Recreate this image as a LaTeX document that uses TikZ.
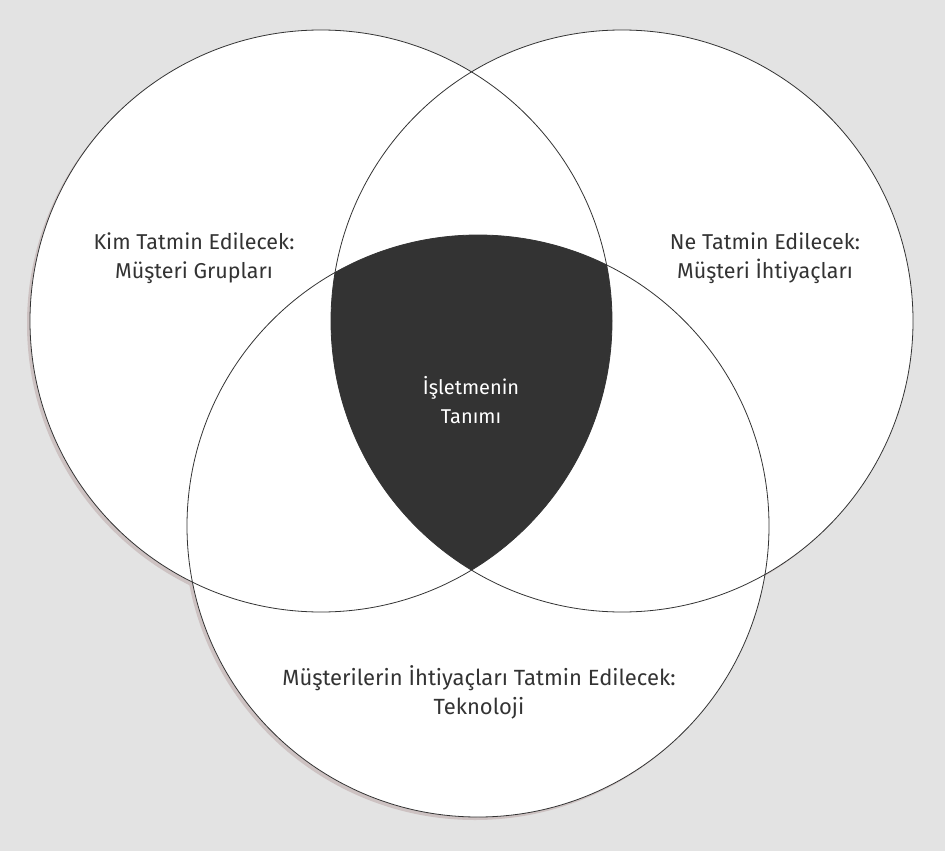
\documentclass[tikz,border=0pt]{standalone}
\usepackage{fontspec}
\setmainfont{Fira Sans}
\definecolor{bg}{RGB}{227,227,227}
\definecolor{ink}{RGB}{51,51,51}
\definecolor{shade}{RGB}{205,194,194}
\tikzstyle{venn} = [circle, 
minimum size=582pt, 
inner sep=0pt, 
draw=ink, 
line width=0.8pt]
\tikzstyle{vennshadow} = [circle, 
minimum size=582pt, 
inner sep=0pt, 
fill=shade]
\tikzstyle{vennlabel} = [align=center, 
text=ink, 
font=\fontsize{21.5}{29}\selectfont]

\begin{document}
\begin{tikzpicture}[x=1pt, y=-1pt]

\fill [bg] (0,0) rectangle (945,851);
\useasboundingbox (0,0) rectangle (945,851);

% shadows
\node [vennshadow] at (318,324) {};
\node [vennshadow] at (619,324) {};
\node [vennshadow] at (475,529) {};

% white circles
\node (kim) [venn, fill=white, draw=none] at (321,321) {};
\node (ne) [venn, fill=white, draw=none] at (622,321) {};
\node (tek) [venn, fill=white, draw=none] at (478,526) {};

% common part
\begin{scope}
\clip (kim.center) circle (291);
\clip (ne.center) circle (291);
\fill [ink] (tek.center) circle (291);
\end{scope}

\node [venn] at (kim) {};
\node [venn] at (ne) {};
\node [venn] at (tek) {};

\node (kim_txt) [vennlabel] at (194,258) {Kim Tatmin Edilecek:\\Müşteri Grupları};
\node (ne_txt) [vennlabel] at (765,258) {Ne Tatmin Edilecek:\\Müşteri İhtiyaçları};
\node (tek_txt) [vennlabel, font=\fontsize{22}{29}\selectfont] at (479,692) {Müşterilerin İhtiyaçları Tatmin Edilecek:\\Teknoloji};
\node (tanim) [vennlabel, text=white, font=\fontsize{20}{29}\selectfont] at (471,400) {İşletmenin\\Tanımı};

\end{tikzpicture}
\end{document}
